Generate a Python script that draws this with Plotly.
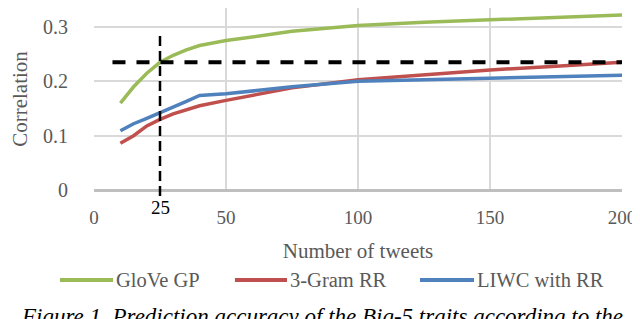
import plotly.graph_objects as go

tweets = [10, 15, 20, 25, 30, 35, 40, 50, 75, 100, 125, 150, 175, 200]
glove_gp = [0.160, 0.190, 0.215, 0.235, 0.248, 0.258, 0.266, 0.275, 0.292, 0.303, 0.309, 0.313, 0.317, 0.322]
gram3_rr = [0.086, 0.100, 0.118, 0.130, 0.140, 0.148, 0.155, 0.165, 0.188, 0.203, 0.212, 0.221, 0.228, 0.235]
liwc_rr = [0.109, 0.122, 0.132, 0.142, 0.152, 0.163, 0.174, 0.177, 0.190, 0.200, 0.203, 0.206, 0.208, 0.211]
series_names = ["GloVe GP", "3-Gram RR", "LIWC with RR"]
threshold_x = 25
threshold_y = 0.235
x_ticks = [0, 50, 100, 150, 200]
y_ticks = [0, 0.1, 0.2, 0.3]
y_tick_labels = ["0", "0.1", "0.2", "0.3"]
caption = "Figure 1. Prediction accuracy of the Big-5 traits according to the"

colors = ["#9BBB59", "#C0504D", "#4F81BD"]
FONT = "Liberation Serif, Times New Roman, serif"
GRAY = "#595959"
YMAX = 0.335

# the page body has an 8px margin; target positions are given in window pixels
OFF = 8
W, H = 640 - OFF, 319 - OFF
L, R, T, B = 94 - OFF, 18, 0, 319 - 190
PW, PH = W - L - R, H - T - B


def px(x):
    return (x - OFF - L) / PW


def py(y):
    return (H - B - (y - OFF)) / PH


fig = go.Figure()
for name, vals, c in zip(series_names, [glove_gp, gram3_rr, liwc_rr], colors):
    fig.add_trace(go.Scatter(x=tweets, y=vals, name=name, mode="lines",
                             line=dict(color=c, width=3.5), showlegend=False))

# reference dashed lines
fig.add_shape(type="line", xref="x", yref="y", x0=7, x1=200,
              y0=threshold_y, y1=threshold_y,
              line=dict(color="black", width=4, dash="13px,11px"))
fig.add_shape(type="line", xref="x", yref="paper", x0=threshold_x, x1=threshold_x,
              y0=py(196), y1=0.285 / YMAX,
              line=dict(color="black", width=2.5, dash="10px,5px"))
fig.add_annotation(x=threshold_x, xref="x", y=py(207), yref="paper",
                   yanchor="middle", text=str(threshold_x), showarrow=False,
                   font=dict(family=FONT, size=19, color="black"))

# legend (drawn manually to match spacing)
legend_pos = [(60, 113), (235, 287), (420, 474)]
for name, c, (a, b) in zip(series_names, colors, legend_pos):
    fig.add_shape(type="line", xref="paper", yref="paper", x0=px(a), x1=px(b),
                  y0=py(280), y1=py(280), line=dict(color=c, width=4))
    fig.add_annotation(x=px(b + 1), xref="paper", xanchor="left",
                       y=py(280), yref="paper", yanchor="middle",
                       text=name, showarrow=False,
                       font=dict(family=FONT, size=20.5, color=GRAY))

fig.add_annotation(x=px(19), xref="paper", xanchor="left",
                   y=py(302), yref="paper", yanchor="top",
                   text="<i>" + caption + "</i>", showarrow=False,
                   font=dict(family=FONT, size=23, color="black"))

fig.update_layout(
    width=W, height=H,
    margin=dict(l=L, r=R, t=T, b=B, autoexpand=False),
    plot_bgcolor="white", paper_bgcolor="white",
    font=dict(family=FONT, size=20, color=GRAY),
    showlegend=False,
    xaxis=dict(range=[0, 200], tickvals=x_ticks, showgrid=True, automargin=False,
               gridcolor="#d9d9d9", gridwidth=2, zeroline=False,
               showline=False, ticks="outside", ticklen=10, tickcolor="rgba(0,0,0,0)",
               tickfont=dict(family=FONT, size=19, color=GRAY),
               title=dict(text="Number of tweets", standoff=16,
                          font=dict(family=FONT, size=21, color=GRAY))),
    yaxis=dict(range=[0, YMAX], tickvals=y_ticks, ticktext=y_tick_labels,
               showgrid=True, gridcolor="#d9d9d9", gridwidth=2, automargin=False,
               zeroline=True, zerolinecolor="#bfbfbf", zerolinewidth=3,
               showline=False, ticks="outside", ticklen=21, tickcolor="rgba(0,0,0,0)",
               tickfont=dict(family=FONT, size=20, color=GRAY),
               title=dict(text="Correlation", standoff=24,
                          font=dict(family=FONT, size=21, color=GRAY))),
)

fig.write_html("out.html")
